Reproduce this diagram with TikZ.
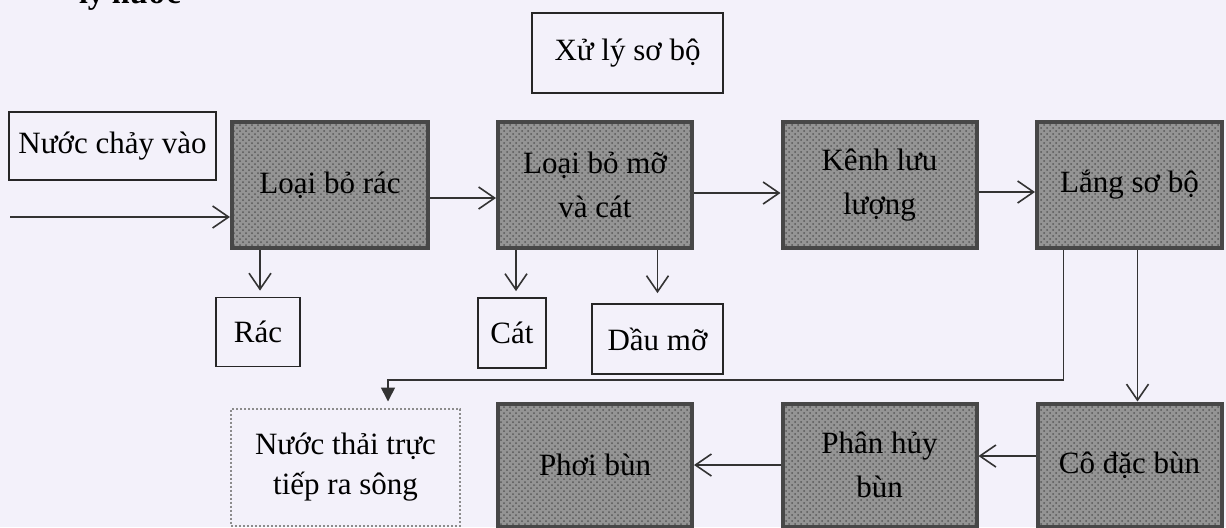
\documentclass[tikz,border=0pt]{standalone}
\usepackage{fontspec}
\setmainfont{Liberation Serif}
\usetikzlibrary{arrows.meta,patterns,positioning}
\definecolor{nen}{RGB}{243,241,250}
\begin{document}
\begin{tikzpicture}[x=0.5pt, y=-0.5pt, node distance=132.5pt,
    font=\fontsize{15.5pt}{19pt}\selectfont,
    khoi/.style={draw=black!72, line width=2pt, preaction={fill=black!42}, pattern=crosshatch dots, pattern color=black!65, text=black, align=center, inner sep=0pt, minimum width=97pt, minimum height=63pt},
    hop/.style={draw=black!85, line width=0.9pt, align=center, inner sep=0pt},
    muiten/.style={-{Straight Barb[length=8pt,width=11pt]}, line width=0.8pt, draw=black!80}]
    \useasboundingbox[fill=nen] (0,0) rectangle (1226,527);

    % Tieu de (bi cat)
    \node (tieude) [anchor=base west, font=\bfseries\fontsize{16pt}{19pt}\selectfont] at (72,3) {lý nước};

    % Hang tren
    \node (loairac) [khoi, minimum width=98pt] at (330,185) {Loại bỏ rác};
    \node (loaimo) [khoi, right of=loairac] {Loại bỏ mỡ\\[3pt]và cát};
    \node (kenh) [khoi, right of=loaimo, xshift=9.75pt] {Kênh lưu\\[3pt]lượng};
    \node (lang) [khoi, minimum width=92.5pt, right of=kenh, xshift=-7.5pt] {Lắng sơ bộ};

    % Hang duoi
    \node (phoi) [khoi, minimum height=61.5pt, below of=loaimo, yshift=-7.5pt] {Phơi bùn};
    \node (phanhuy) [khoi, minimum height=61.5pt, below of=kenh, yshift=-7.5pt] {Phân hủy\\[3pt]bùn};
    \node (codac) [khoi, minimum width=92pt, minimum height=61.5pt, below of=lang, yshift=-7.5pt] {Cô đặc bùn};

    % Cac hop chu
    \node (xuly) [hop, minimum width=95.5pt, minimum height=40pt] at (627.5,53) {Xử lý sơ bộ};
    \node (vao) [hop, minimum width=103.5pt, minimum height=34pt] at (112.5,146) {Nước chảy vào};
    \node (rac) [hop, minimum width=42pt, minimum height=34.5pt] at (258,332) {Rác};
    \node (cat) [hop, minimum width=34pt, minimum height=35pt] at (512,333) {Cát};
    \node (daumo) [hop, minimum width=65.5pt, minimum height=35pt] at (657.5,339) {Dầu mỡ};
    \node (thai) [draw=black!45, densely dotted, line width=1pt, align=center, inner sep=0pt, minimum width=114.5pt, minimum height=58.5pt] at (345.5,467) {Nước thải trực\\[1pt]tiếp ra sông};

    % Mui ten
    \coordinate (dauvao) at (10,217);
    \coordinate (re) at (388,380);
    \draw[muiten] (dauvao) -- (dauvao -| loairac.west);
    \draw[muiten] ([yshift=-6.5pt]loairac.east) -- ([yshift=-6.5pt]loaimo.west);
    \draw[muiten] ([yshift=-4pt]loaimo.east) -- ([yshift=-4pt]kenh.west);
    \draw[muiten] ([yshift=-3.5pt]kenh.east) -- ([yshift=-3.5pt]lang.west);
    \draw[muiten, shorten >=3pt] ([xshift=1pt]rac.north |- loairac.south) -- ([xshift=1pt]rac.north);
    \draw[muiten, shorten >=3pt] ([xshift=2pt]cat.north |- loaimo.south) -- ([xshift=2pt]cat.north);
    \draw[muiten, shorten >=5pt] (daumo.north |- loaimo.south) -- (daumo.north);
    \draw[muiten] ([xshift=4pt]codac.north |- lang.south) -- ([xshift=4pt]codac.north);
    \draw[line width=0.8pt, draw=black!80, -{Triangle[length=7pt,width=7pt]}, shorten >=3pt] ([xshift=-33pt]lang.south) |- (re) -- (re |- thai.north);
    \draw[muiten] ([yshift=4.5pt]codac.west) -- ([yshift=4.5pt]phanhuy.east);
    \draw[muiten] (phanhuy.west) -- (phoi.east);
\end{tikzpicture}
\end{document}
